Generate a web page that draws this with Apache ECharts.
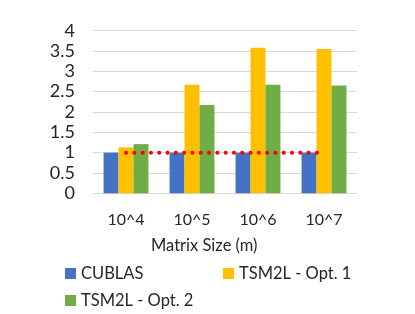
<!DOCTYPE html>
<html><head><meta charset="utf-8">
<script src="https://cdn.jsdelivr.net/npm/echarts@6/dist/echarts.min.js"></script>
<style>html,body{margin:0;padding:0;background:#fff}#c{width:415px;height:314px}</style>
</head><body><div id="c"></div>
<script>
var categories = ['10^4', '10^5', '10^6', '10^7'];
var cublas = [1, 1, 1, 1];
var opt1 = [1.13, 2.67, 3.58, 3.55];
var opt2 = [1.21, 2.17, 2.67, 2.65];
var baseline = [1, 1, 1, 1];
var yTicks = [0, 0.5, 1, 1.5, 2, 2.5, 3, 3.5, 4];

var FONT = 'Lato';
var chart = echarts.init(document.getElementById('c'), null, {renderer: 'canvas'});
function legendAt(name, left, top) {
  return {
    data: [name], left: left, top: top, orient: 'horizontal',
    itemWidth: 11, itemHeight: 11, icon: 'rect', padding: 0,
    textStyle: {fontFamily: FONT, fontSize: 16.5, color: '#262626'},
    selectedMode: false
  };
}
chart.setOption({
  animation: false,
  backgroundColor: '#fff',
  grid: {left: 93, right: 58, top: 30.7, bottom: 120.7, containLabel: false},
  xAxis: {
    type: 'category', data: categories,
    axisLine: {show: true, lineStyle: {color: '#d9d9d9'}},
    axisTick: {show: false},
    axisLabel: {fontFamily: FONT, fontSize: 16, color: '#262626', margin: 19}
  },
  yAxis: {
    type: 'value', min: 0, max: 4, interval: 0.5,
    axisLine: {show: false}, axisTick: {show: false},
    splitLine: {lineStyle: {color: '#d9d9d9'}},
    axisLabel: {fontFamily: FONT, fontSize: 18, color: '#262626', margin: 18,
      formatter: function (v) { return yTicks.indexOf(v) >= 0 ? String(v) : ''; }}
  },
  legend: [
    legendAt('CUBLAS', 65, 265),
    legendAt('TSM2L - Opt. 1', 223, 265),
    legendAt('TSM2L - Opt. 2', 65, 292)
  ],
  graphic: [{
    type: 'text', left: 151, top: 237,
    style: {text: 'Matrix Size (m)', font: '16.5px ' + FONT, fill: '#262626'}
  }],
  series: [
    {name: 'CUBLAS', type: 'bar', data: cublas, barGap: '0%', barCategoryGap: '32%', itemStyle: {color: '#4472C4'}},
    {name: 'TSM2L - Opt. 1', type: 'bar', data: opt1, barGap: '0%', barCategoryGap: '32%', itemStyle: {color: '#FFC000'}},
    {name: 'TSM2L - Opt. 2', type: 'bar', data: opt2, barGap: '0%', barCategoryGap: '32%', itemStyle: {color: '#70AD47'}},
    {name: 'baseline', type: 'line', data: baseline, symbol: 'none', z: 5,
      lineStyle: {color: '#FF0000', width: 4, type: [0.1, 8.2], cap: 'round'}}
  ]
});
</script></body></html>
